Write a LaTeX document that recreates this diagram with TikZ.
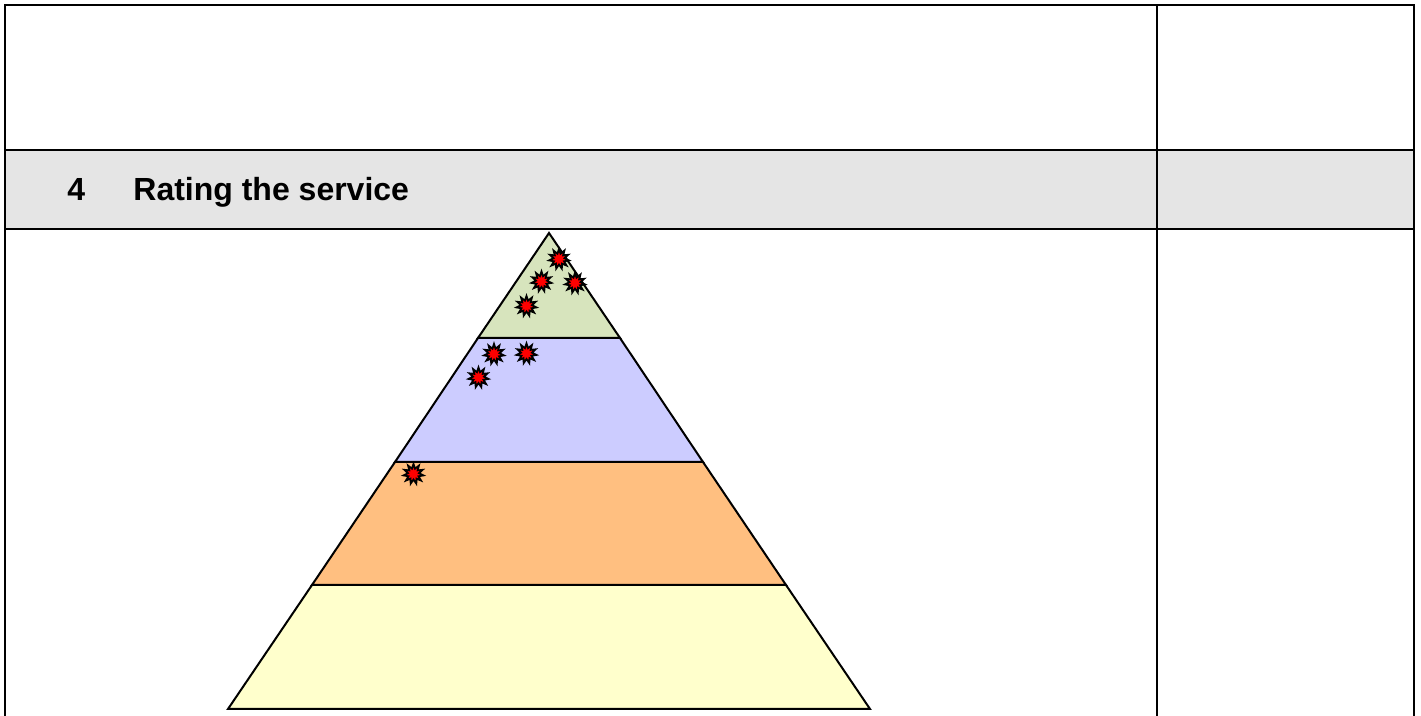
\documentclass[tikz,border=0pt]{standalone}
\usepackage{fontspec}
\setmainfont{Liberation Sans}
\usepackage{xcolor}
\usetikzlibrary{shapes,positioning}

\definecolor{headgrey}{HTML}{E5E5E5}
\definecolor{tiergreen}{HTML}{D7E4BD}
\definecolor{tierblue}{HTML}{CCCCFF}
\definecolor{tierorange}{HTML}{FFBF80}
\definecolor{tieryellow}{HTML}{FFFFCC}

\tikzset{
  rule/.style={line width=1pt, black},
  tier/.style={line width=1pt, draw=black},
  burst/.style={star, star points=11, star point ratio=1.8, minimum size=10pt,
    inner sep=0pt, fill=black, draw=black, line width=0.9pt,
    path picture={\fill[red] (path picture bounding box.center) circle (3.3pt);}},
  headtext/.style={font=\fontsize{16}{19}\selectfont\bfseries, inner sep=0pt}
}

\begin{document}
\begin{tikzpicture}[x=0.5pt, y=-0.5pt]
    \useasboundingbox (0,0) rectangle (1421,716);

    % Header band
    \fill[headgrey] (5,150) rectangle (1414,229);
    \node[headtext, anchor=base west] (num) at (67,201) {4};
    \node[headtext, anchor=base west] (title) at (133,201) {Rating the service};

    % Table frame
    \draw[rule] (5,716) -- (5,5) -- (1414,5) -- (1414,716);
    \draw[rule] (1157,5) -- (1157,716);
    \draw[rule] (5,150) -- (1414,150);
    \draw[rule] (5,229) -- (1414,229);

    % Pyramid tiers
    \draw[tier, fill=tieryellow] (312,585) -- (786,585) -- (870,709) -- (228,709) -- cycle;
    \draw[tier, fill=tierorange] (395,462) -- (703,462) -- (786,585) -- (312,585) -- cycle;
    \draw[tier, fill=tierblue] (478,338) -- (620,338) -- (703,462) -- (395,462) -- cycle;
    \draw[tier, fill=tiergreen] (549,233) -- (620,338) -- (478,338) -- cycle;

    % Ratings
    \node[burst] (r1) at (559,259) {};
    \node[burst] (r2) at (541.5,281.5) {};
    \node[burst] (r3) at (575,283) {};
    \node[burst] (r4) at (526.5,306) {};
    \node[burst] (r5) at (494,354) {};
    \node[burst] (r6) at (526.5,353.5) {};
    \node[burst] (r7) at (478.5,377.5) {};
    \node[burst] (r8) at (413.5,474) {};
\end{tikzpicture}
\end{document}
